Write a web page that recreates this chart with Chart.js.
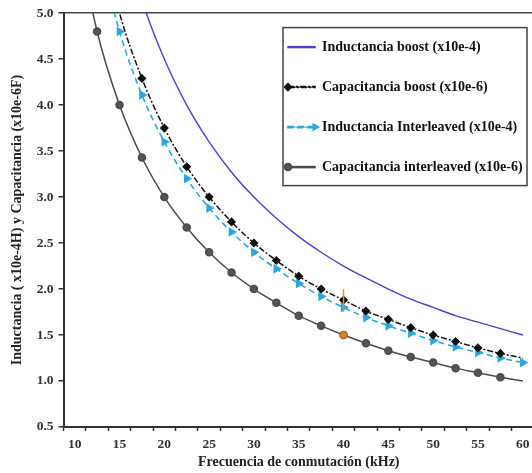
<!DOCTYPE html>
<html>
<head>
<meta charset="utf-8">
<script src="https://cdn.jsdelivr.net/npm/chart.js@4"></script>
<style>
  html, body { margin: 0; padding: 0; background: #fff; overflow: hidden; }
  #wrap { position: absolute; left: 0; top: 0; width: 540px; height: 473px; }
</style>
</head>
<body>
<div id="wrap"><canvas id="chart"></canvas></div>
<script>
// kHz, one category every 2.5
const freqLabels = ['10', '12.5', '15', '17.5', '20', '22.5', '25', '27.5', '30', '32.5', '35',
  '37.5', '40', '42.5', '45', '47.5', '50', '52.5', '55', '57.5', '60'];

const inductanciaBoost = [null, null, 6.00, 5.14, 4.50, 4.00, 3.60, 3.27, 3.00, 2.77, 2.57,
  2.40, 2.25, 2.12, 2.00, 1.89, 1.80, 1.71, 1.64, 1.57, 1.50];
const capacitanciaBoost = [null, 6.00, 5.00, 4.29, 3.75, 3.33, 3.00, 2.73, 2.50, 2.31, 2.14,
  2.00, 1.88, 1.76, 1.67, 1.58, 1.50, 1.43, 1.36, 1.30, 1.25];
const inductanciaInterleaved = [null, 5.76, 4.80, 4.11, 3.60, 3.20, 2.88, 2.62, 2.40, 2.22, 2.06,
  1.92, 1.80, 1.69, 1.60, 1.52, 1.44, 1.37, 1.31, 1.25, 1.20];
const capacitanciaInterleaved = [6.00, 4.80, 4.00, 3.43, 3.00, 2.67, 2.40, 2.18, 2.00, 1.85, 1.71,
  1.60, 1.50, 1.41, 1.33, 1.26, 1.20, 1.14, 1.09, 1.04, 1.00];

// small orange mark at 40 kHz
const marcaLinea = [{ x: '40', y: 2.00 }, { x: '40', y: 1.75 }];
const marcaPunto = [{ x: '40', y: 1.50 }];

const yTicks = [0.5, 1.0, 1.5, 2.0, 2.5, 3.0, 3.5, 4.0, 4.5, 5.0];

const serif = 'Liberation Serif, Times New Roman, serif';
const legendFont = 14;
const legendPad = 26;
const legendBox = 27;

// markers only on part of each curve
function radiusFrom(first, last, r) {
  return ctx => (ctx.dataIndex >= first && ctx.dataIndex <= last) ? r : 0;
}

const legendFrame = {
  id: 'legendFrame',
  afterLayout(chart) {
    const ca = chart.chartArea;
    const lg = chart.legend;
    lg.left = ca.right - 272;
    lg.right = ca.right;
    lg.top = ca.top + 1;
    lg.bottom = ca.bottom;
    lg.width = lg.right - lg.left;
    lg.height = lg.bottom - lg.top;
  },
  afterDraw(chart) {
    const ca = chart.chartArea;
    const lg = chart.legend;
    const ctx = chart.ctx;
    ctx.save();
    ctx.strokeStyle = '#444';
    ctx.lineWidth = 1.5;
    ctx.strokeRect(ca.right - 251, ca.top + 14.5, 244, 158);
    // marker on each legend sample line
    const items = lg.legendItems || [];
    items.forEach((item, i) => {
      const ds = chart.data.datasets[item.datasetIndex];
      if (!ds.legendMarker || !Chart.helpers) return;
      const y = lg.top + legendPad + i * (legendFont + legendPad) + legendFont / 2;
      const x0 = lg.left + legendPad;
      const x = ds.legendMarker === 'end' ? x0 + legendBox : x0;
      ctx.fillStyle = ds.backgroundColor;
      ctx.strokeStyle = ds.borderColor;
      ctx.setLineDash([]);
      Chart.helpers.drawPoint(ctx, {
        pointStyle: ds.pointStyle, radius: 3.5, rotation: ds.pointRotation || 0, borderWidth: 1
      }, x, y);
    });
    ctx.restore();
  }
};

new Chart(document.getElementById('chart'), {
  type: 'line',
  data: {
    labels: freqLabels,
    datasets: [
      {
        label: 'marca', data: marcaLinea, borderColor: '#e8912d', borderWidth: 1.5,
        pointRadius: 0, tension: 0
      },
      {
        label: 'punto', data: marcaPunto, showLine: false, pointRadius: 3.5,
        pointBackgroundColor: '#d9822b', pointBorderColor: '#c46f1d'
      },
      {
        label: 'Inductancia boost (x10e-4)', data: inductanciaBoost,
        borderColor: '#4b3fd1', backgroundColor: '#4b3fd1', borderWidth: 1.4,
        pointRadius: 0
      },
      {
        label: 'Capacitancia boost (x10e-6)', data: capacitanciaBoost,
        borderColor: '#111', backgroundColor: '#111', borderWidth: 1.5,
        borderDash: [6, 2, 2, 2],
        pointStyle: 'rectRot', pointRadius: radiusFrom(3, 19, 3.5), legendMarker: 'start'
      },
      {
        label: 'Inductancia Interleaved (x10e-4)', data: inductanciaInterleaved,
        borderColor: '#2aa7df', backgroundColor: '#2aa7df', borderWidth: 1.6,
        borderDash: [6, 4],
        pointStyle: 'triangle', pointRotation: 90, pointRadius: radiusFrom(2, 20, 4),
        legendMarker: 'end'
      },
      {
        label: 'Capacitancia interleaved (x10e-6)', data: capacitanciaInterleaved,
        borderColor: '#4a4a4a', backgroundColor: '#555', borderWidth: 1.5,
        pointStyle: 'circle', pointRadius: radiusFrom(1, 19, 3.5), legendMarker: 'start'
      }
    ]
  },
  options: {
    responsive: true,
    maintainAspectRatio: false,
    animation: false,
    layout: { padding: { left: 5, top: 13, right: 6, bottom: 0 } },
    elements: {
      line: { cubicInterpolationMode: 'monotone', borderCapStyle: 'butt' },
      point: { borderWidth: 1 }
    },
    datasets: { line: { clip: 0, spanGaps: false } },
    plugins: {
      tooltip: { enabled: false },
      legend: {
        position: 'chartArea',
        align: 'start',
        labels: {
          filter: item => item.datasetIndex >= 2,
          color: '#111',
          font: { family: serif, size: legendFont, weight: 'bold' },
          boxWidth: legendBox,
          boxHeight: 1,
          padding: legendPad
        }
      }
    },
    scales: {
      x: {
        type: 'category',
        offset: true,
        afterFit: s => { s.height = 46; },
        grid: {
          offset: true, drawOnChartArea: false, tickLength: 4,
          tickColor: '#333', tickWidth: 1.5
        },
        border: { display: true, color: '#333', width: 2 },
        ticks: {
          autoSkip: false, maxRotation: 0, padding: 5, color: '#333',
          font: { family: serif, size: 13.5, weight: 'bold' },
          callback: function (val) {
            const l = this.getLabelForValue(val);
            return Number(l) % 5 === 0 ? l : '';
          }
        },
        title: {
          display: true, text: 'Frecuencia de conmutación (kHz)', color: '#222',
          font: { family: serif, size: 14, weight: 'bold' },
          padding: { top: 2, bottom: 2 }
        }
      },
      y: {
        min: 0.5,
        max: 5.0,
        afterFit: s => { s.width = 58.5; },
        afterBuildTicks: s => { s.ticks = yTicks.map(v => ({ value: v })); },
        grid: {
          drawOnChartArea: true, tickLength: 5, tickColor: '#333', tickWidth: 1.5,
          color: c => (c.tick && c.tick.value === 5) ? '#444' : 'rgba(0,0,0,0)',
          lineWidth: 1.5
        },
        border: { display: true, color: '#333', width: 2 },
        ticks: {
          padding: 5, color: '#333',
          font: { family: serif, size: 13.5, weight: 'bold' },
          callback: v => v.toFixed(1)
        },
        title: {
          display: true, text: 'Inductancia ( x10e-4H) y Capacitancia (x10e-6F)', color: '#222',
          font: { family: serif, size: 14, weight: 'bold' },
          padding: { top: 4, bottom: 2 }
        }
      }
    }
  },
  plugins: [legendFrame]
});
</script>
</body>
</html>
